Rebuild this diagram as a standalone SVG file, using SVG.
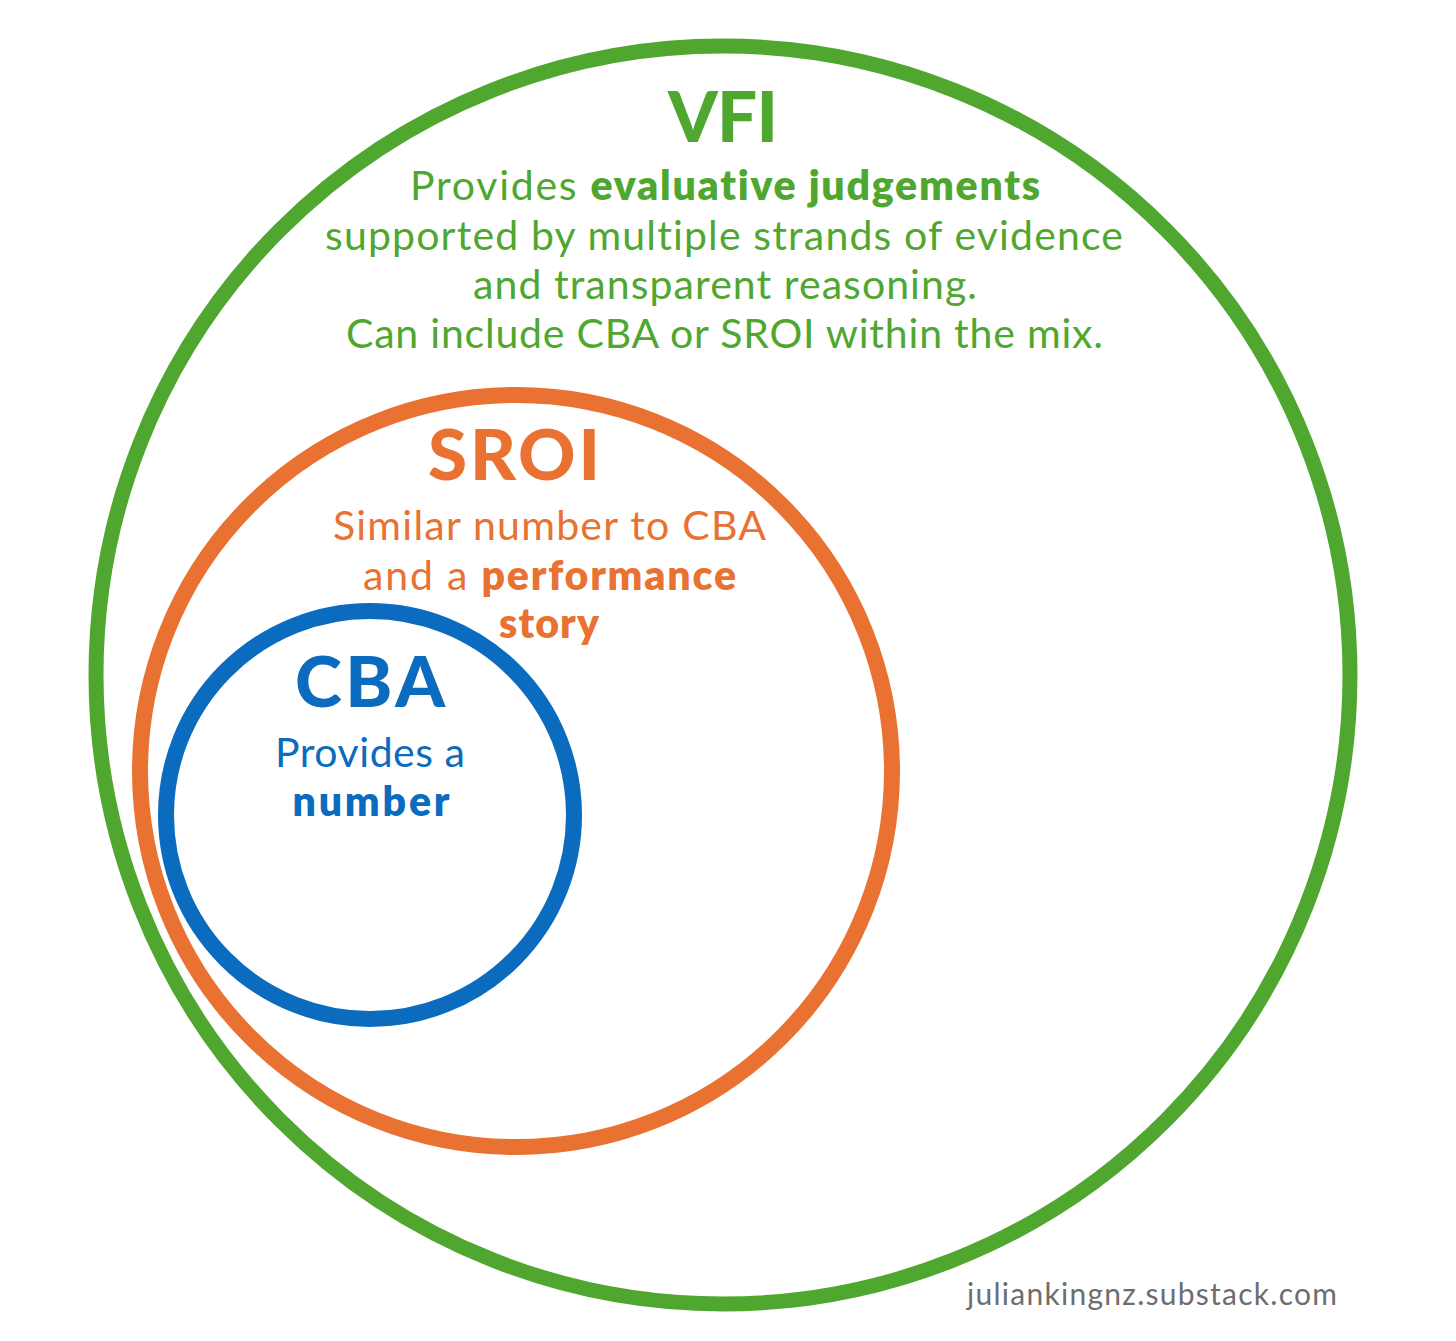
<svg xmlns="http://www.w3.org/2000/svg" width="1456" height="1341" viewBox="0 0 1456 1341">
  <style>
    .ring { fill: none; }
    .t { font-family: Lato, "Noto Sans", "DejaVu Sans", sans-serif; text-anchor: middle; font-variant-ligatures: none; }
    .head { font-size: 71px; font-weight: 900; }
    .body { font-size: 41px; font-weight: 400; }
    .b { font-weight: 800; }
    .green { fill: #4fa72f; }
    .orange { fill: #e97232; }
    .blue { fill: #0b6cbf; }
  </style>
  <rect x="0" y="0" width="1456" height="1341" fill="#ffffff"/>
  <g id="vfi">
    <ellipse class="ring" cx="723" cy="675" rx="627" ry="629" stroke="#4fa72f" stroke-width="15"/>
    <text class="t head green" x="723" y="142" textLength="110">VFI</text>
    <text class="t body green" x="725" y="200" textLength="630">Provides <tspan class="b">evaluative judgements</tspan></text>
    <text class="t body green" x="724" y="250" textLength="798">supported by multiple strands of evidence</text>
    <text class="t body green" x="725" y="299" textLength="504">and transparent reasoning.</text>
    <text class="t body green" x="724.5" y="348" textLength="757">Can include CBA or SROI within the mix.</text>
  </g>
  <g id="sroi">
    <circle class="ring" cx="516" cy="771" r="376" stroke="#e97232" stroke-width="16"/>
    <text class="t head orange" x="514" y="480" textLength="172">SROI</text>
    <text class="t body orange" x="549.5" y="540" textLength="433">Similar number to CBA</text>
    <text class="t body orange" x="549.5" y="590" textLength="373">and a <tspan class="b">performance</tspan></text>
    <text class="t body orange b" x="549" y="638" textLength="100">story</text>
  </g>
  <g id="cba">
    <circle class="ring" cx="370" cy="815" r="204" stroke="#0b6cbf" stroke-width="16"/>
    <text class="t head blue" x="370" y="707" textLength="150">CBA</text>
    <text class="t body blue" x="370" y="767" textLength="190">Provides a</text>
    <text class="t body blue b" x="371" y="816" textLength="157">number</text>
  </g>
  <g id="connectors"/>
  <text class="t" x="1152" y="1305" font-size="30" fill="#6d6d6d" textLength="370">juliankingnz.substack.com</text>
</svg>
